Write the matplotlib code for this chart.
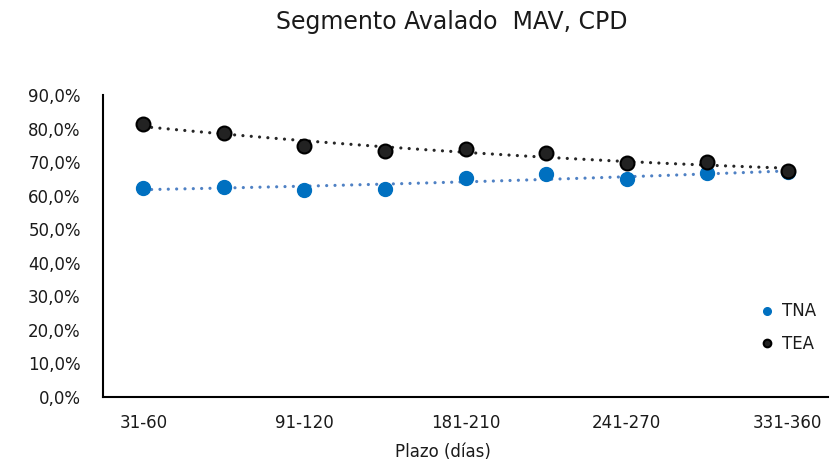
import numpy as np
import matplotlib
matplotlib.use("Agg")
import matplotlib.pyplot as plt
from matplotlib.ticker import FuncFormatter

categories = ["31-60", "61-90", "91-120", "121-180", "181-210",
              "211-240", "241-270", "271-330", "331-360"]
tna = [62.4, 62.5, 61.6, 62.0, 65.3, 66.4, 64.9, 66.7, 67.0]
tea = [81.3, 78.7, 74.8, 73.3, 73.9, 72.7, 69.7, 70.0, 67.3]
yticks = [0, 10, 20, 30, 40, 50, 60, 70, 80, 90]

fig = plt.figure(figsize=(8.31, 4.62), dpi=100)
ax = fig.add_axes([103/831, 65/462, (828-103)/831, (397-95)/462])

x = np.arange(len(categories))
tick_font = "DejaVu Sans"
fs = 12

# trendlines (polynomial fit)
xs = np.linspace(0, len(categories) - 1, 300)
p_tna = np.polyfit(x, tna, 2)
p_tea = np.polyfit(x, tea, 2)
dot = (0, (0.01, 2.6))
ax.plot(xs, np.polyval(p_tea, xs), linestyle=dot, color="#262626",
        linewidth=2.3, dash_capstyle="round", zorder=2)
ax.plot(xs, np.polyval(p_tna, xs), linestyle=dot, color="#4f81c4",
        linewidth=2.3, dash_capstyle="round", zorder=2)

ax.plot(x, tna, "o", color="#0070C0", markersize=10, markeredgecolor="#0070C0",
        linestyle="none", label="TNA", zorder=3)
ax.plot(x, tea, "o", color="#222222", markersize=10, markeredgecolor="#000000",
        markeredgewidth=1.5, linestyle="none", label="TEA", zorder=4)

ax.set_xlim(-0.5, len(categories) - 0.5)
ax.set_ylim(0, 90)
ax.set_yticks(yticks)
ax.yaxis.set_major_formatter(FuncFormatter(lambda v, p: f"{v:.1f}%".replace(".", ",")))
ax.set_xticks(x)
ax.set_xticklabels([c if i % 2 == 0 else "" for i, c in enumerate(categories)])
ax.tick_params(axis="both", length=0, labelsize=fs, colors="#1a1a1a")
ax.tick_params(axis="y", pad=16)
ax.tick_params(axis="x", pad=12)
for lab in ax.get_xticklabels() + ax.get_yticklabels():
    lab.set_fontfamily(tick_font)

for s in ["top", "right"]:
    ax.spines[s].set_visible(False)
for s in ["left", "bottom"]:
    ax.spines[s].set_linewidth(1.5)
    ax.spines[s].set_color("#000000")

ax.set_xlabel("Plazo (días)", fontsize=fs, fontfamily=tick_font, color="#1a1a1a")
ax.xaxis.set_label_coords((443 - 103) / 725, -(452 - 397) / 302, transform=ax.transAxes)
ax.xaxis.label.set_va("center")

fig.text(452/831, 1 - 22/462, "Segmento Avalado  MAV, CPD", ha="center", va="center",
         fontsize=17, fontfamily="DejaVu Sans", color="#1a1a1a")

leg = ax.legend(loc="center left", bbox_to_anchor=(750/831, 1 - 327.5/462),
                bbox_transform=fig.transFigure, borderaxespad=0,
                frameon=False, markerscale=0.55, handletextpad=0.3, handlelength=1.2,
                labelspacing=0.85, prop={"family": tick_font, "size": fs})
for t in leg.get_texts():
    t.set_color("#1a1a1a")

fig.savefig("out.png", dpi=100)
